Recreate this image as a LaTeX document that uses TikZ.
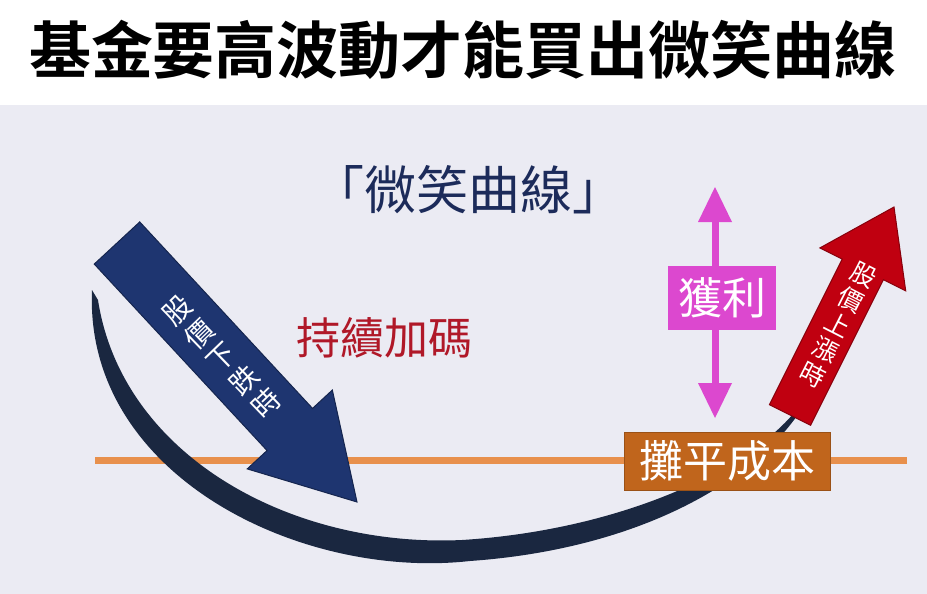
\documentclass[tikz,border=0pt]{standalone}
\usepackage{fontspec}
\newfontfamily\cjk{Noto Sans CJK TC}
\newfontfamily\cjkb{Noto Sans CJK TC Bold}
\usetikzlibrary{calc}
\definecolor{bgc}{HTML}{EBEBF3}
\definecolor{navy}{HTML}{1C2B5A}
\definecolor{curvec}{HTML}{1A2740}
\definecolor{bluea}{HTML}{1E3570}
\definecolor{reda}{HTML}{C00010}
\definecolor{mag}{HTML}{DC48CF}
\definecolor{orbox}{HTML}{C0651C}
\definecolor{orline}{HTML}{E8904C}
\definecolor{dred}{HTML}{B01828}
\tikzset{lbl/.style={font=\cjk, inner sep=0pt}}
\begin{document}
\begin{tikzpicture}[x=1pt,y=-1pt]
\useasboundingbox (0,0) rectangle (927,594);
\fill[white] (0,0) rectangle (927,105);
\fill[bgc] (0,105) rectangle (927,594);
\node[lbl, font=\cjkb\fontsize{62}{64}\selectfont] (title) at (463,50) {基金要高波動才能買出微笑曲線};
% orange line
\coordinate (la) at (95,460);
\coordinate (lb) at (907,460);
\draw[orline, line width=7pt] (la) -- (lb);
% smile curve
\fill[curvec] (92,290) .. controls (84,475) and (300,580) .. (470,561)
  .. controls (640,549) and (760,480) .. (806,402)
  -- (798,408) .. controls (750,470) and (620,530) .. (462,540)
  .. controls (290,548) and (122,455) .. (98,300) -- cycle;
% blue arrow
\coordinate (bt) at (117,243);
\coordinate (bh) at (357,502);
\path ($(bt)!0.72!(bh)$) coordinate (bm);
\fill[bluea, draw=bluea!70!black, line width=1pt]
  ($(bt)!31pt!90:(bh)$) -- ($(bm)!31pt!-90:(bt)$) -- ($(bm)!58pt!-90:(bt)$) -- (bh)
  -- ($(bm)!58pt!90:(bt)$) -- ($(bm)!31pt!90:(bt)$) -- ($(bt)!31pt!-90:(bh)$) -- cycle;
\node[lbl, text=white, rotate=44, font=\cjk\fontsize{28}{32}\selectfont, align=center] (btxt) at (222,357) {股\\價\\下\\跌\\時};
% red arrow
\coordinate (rt) at (790,415);
\coordinate (rh) at (894,207);
\path ($(rt)!0.7!(rh)$) coordinate (rm);
\fill[reda, draw=reda!70!black, line width=1pt]
  ($(rt)!23pt!90:(rh)$) -- ($(rm)!23pt!-90:(rt)$) -- ($(rm)!48pt!-90:(rt)$) -- (rh)
  -- ($(rm)!48pt!90:(rt)$) -- ($(rm)!23pt!90:(rt)$) -- ($(rt)!23pt!-90:(rh)$) -- cycle;
\node[lbl, text=white, rotate=-27, font=\cjk\fontsize{25}{28}\selectfont, align=center] (rtxt) at (838,325) {股\\價\\上\\漲\\時};
% magenta double arrow
\coordinate (mt) at (715,187);
\coordinate (mb) at (715,418);
\draw[mag, line width=7pt] ($(mt)+(0,30)$) -- ($(mb)+(0,-30)$);
\fill[mag] (mt) -- ++(-17,35) -- ++(34,0) -- cycle;
\fill[mag] (mb) -- ++(-17,-35) -- ++(34,0) -- cycle;
\node[lbl, fill=mag, text=white, minimum width=108pt, minimum height=64pt, font=\cjk\fontsize{44}{46}\selectfont] (gain) at (722,298) {獲利};
% orange box
\node[lbl, fill=orbox, draw=orbox!80!black, text=white, minimum width=206pt, minimum height=58pt, font=\cjk\fontsize{44}{46}\selectfont] (cost) at (727,461) {攤平成本};
% labels
\node[lbl, text=navy, font=\cjk\fontsize{52}{54}\selectfont] (smile) at (468,190) {「微笑曲線」};
\node[lbl, text=dred, font=\cjk\fontsize{44}{46}\selectfont] (add) at (384,338) {持續加碼};
\end{tikzpicture}
\end{document}
